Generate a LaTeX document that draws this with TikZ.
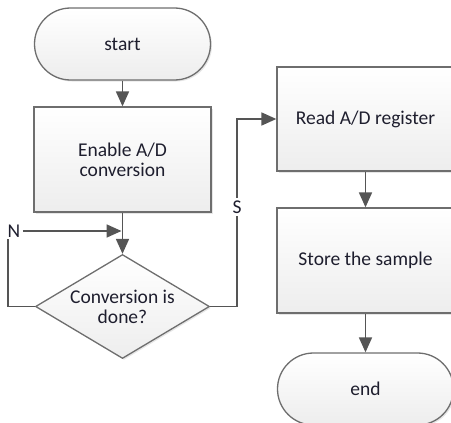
\documentclass[tikz,border=0pt]{standalone}
\usepackage{fontspec}
\setmainfont{Carlito}
\usetikzlibrary{shapes.geometric,arrows.meta,shadows}
\definecolor{edgec}{HTML}{6E6E6E}
\definecolor{connc}{HTML}{555555}
\definecolor{txtc}{HTML}{1E1E2E}
\begin{document}
\begin{tikzpicture}[x=1pt,y=-1pt,
  base/.style={draw=edgec, line width=1.3pt, top color=white, bottom color=black!7,
    text=txtc, font=\fontsize{19.5}{20}\selectfont, align=center, inner sep=0pt,
    drop shadow={opacity=0.2,shadow xshift=1.5pt,shadow yshift=-1.5pt}},
  procbox/.style={base, rectangle, minimum width=177pt, minimum height=105pt},
  termbox/.style={base, rectangle, rounded corners=36pt, minimum width=176pt, minimum height=72pt},
  decbox/.style={base, diamond, aspect=1.673, minimum width=174pt, minimum height=104pt},
  conn/.style={draw=connc, line width=1.8pt},
  arr/.style={conn, -{Triangle[length=15pt,width=13pt]}},
  lab/.style={text=txtc, font=\fontsize{19.5}{20}\selectfont, inner sep=2.5pt}
]
\useasboundingbox (0,0) rectangle (451,423);
\clip (0,0) rectangle (451,423);

\node[termbox] (start) at (122.5,44) {start};
\node[procbox] (enable) at (122.5,159.5) {Enable A/D\\conversion};
\node[decbox] (dec) at (122.5,306.5) {Conversion is\\done?};
\node[procbox, minimum height=104pt] (read) at (365.5,119) {Read A/D register};
\node[procbox] (store) at (365.5,260.5) {Store the sample};
\node[termbox] (end) at (365.5,389) {end};
\node[lab] (nlab) at (14,231) {N};
\node[lab] (slab) at (237,207) {S};
\coordinate (nc) at (8,239);

\draw[arr] (start.south) -- (enable.north);
\draw[arr] (enable.south) -- (dec.north);
\draw[conn] (dec.west) -| (nc);
\draw[arr, shorten >=1pt] (nlab.east) -- (nlab.east -| enable.south);
\draw[conn] (dec.east) -| (slab.south);
\draw[arr] (slab.north) |- (read.west);
\draw[arr] (read.south) -- (store.north);
\draw[arr] (store.south) -- (end.north);
\end{tikzpicture}
\end{document}
